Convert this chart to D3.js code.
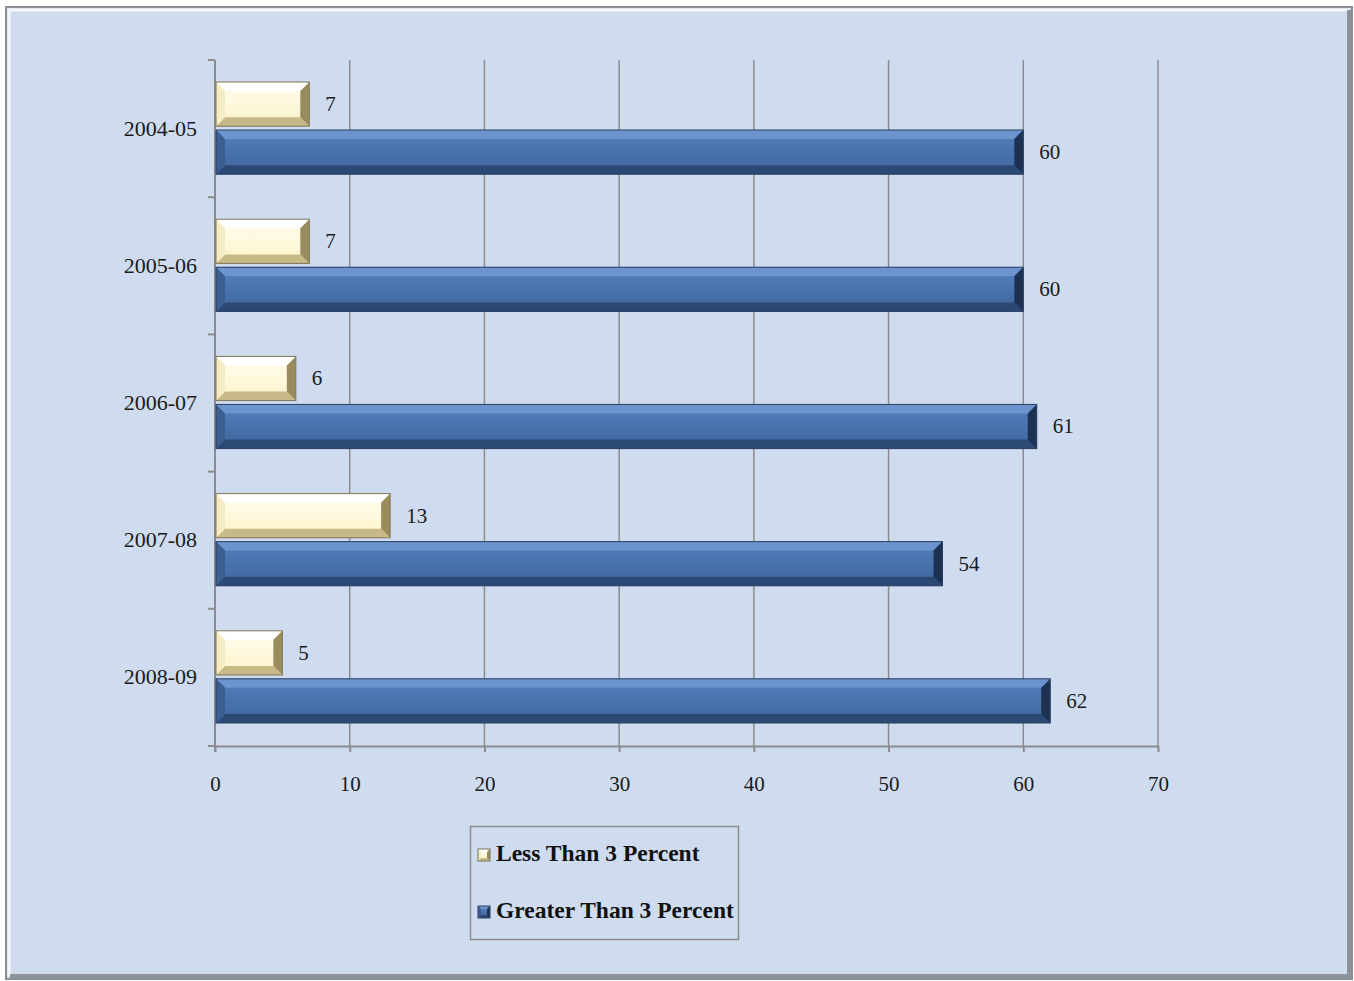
<!DOCTYPE html>
<html>
<head>
<meta charset="utf-8">
<script src="https://cdn.jsdelivr.net/npm/d3@7"></script>
<style>
    body { margin: 0; background: #ffffff; }
    svg { display: block; }
</style>
</head>
<body>
<svg id="svg" width="1354" height="981"></svg>
<script>
var categories = ["2004-05", "2005-06", "2006-07", "2007-08", "2008-09"];
var seriesNames = ["Less Than 3 Percent", "Greater Than 3 Percent"];
var lessValues = [7, 7, 6, 13, 5];
var greaterValues = [60, 60, 61, 54, 62];
var xTicks = [0, 10, 20, 30, 40, 50, 60, 70];

var svg = d3.select("svg"),
    width = +svg.attr("width"),
    height = +svg.attr("height");

var fontFamily = "'Liberation Serif', 'DejaVu Serif', serif";

// bevel colour sets for the two series
var palettes = [
    { face: ["#fffdf0", "#fdf3c8"], top: "#ffffff", left: "#f6ecc4", bottom: "#c8ba88", right: "#9a8c5e", stroke: "#7d7555" },
    { face: ["#5380bd", "#3f659c"], top: "#6c95cf", left: "#3c5f92", bottom: "#2c4875", right: "#1d3253", stroke: "#2a3f62" }
];

var defs = svg.append("defs");
palettes.forEach(function (p, i) {
    var lg = defs.append("linearGradient")
        .attr("id", "face" + i)
        .attr("x1", 0).attr("y1", 0).attr("x2", 0).attr("y2", 1);
    lg.append("stop").attr("offset", "0%").attr("stop-color", p.face[0]);
    lg.append("stop").attr("offset", "100%").attr("stop-color", p.face[1]);
});

// outer frame with bevel
var frame = svg.append("g");
frame.append("rect")
    .attr("x", 6).attr("y", 7).attr("width", 1346).attr("height", 972)
    .attr("fill", "#cfdcef")
    .attr("stroke", "#8a8f96")
    .attr("stroke-width", 2);
frame.append("path")
    .attr("d", "M9,976 L9,10 L1349,10")
    .attr("fill", "none").attr("stroke", "#ffffff").attr("stroke-width", 3).attr("opacity", 0.8);
frame.append("path")
    .attr("d", "M10,976 L1349,976 L1349,10")
    .attr("fill", "none").attr("stroke", "#6f7378").attr("stroke-width", 4).attr("opacity", 0.7);

// scales
var x = d3.scaleLinear()
    .domain([0, 70])
    .range([215, 1158]);

var y = d3.scaleBand()
    .domain(categories)
    .range([60, 746])
    .padding(0);

var inner = d3.scaleBand()
    .domain(seriesNames)
    .range([22, y.bandwidth() - 23])
    .paddingInner(0.08);

// gridlines
svg.append("g")
    .selectAll("line")
    .data(xTicks.slice(1))
    .enter()
    .append("line")
    .attr("x1", function (d) { return x(d); })
    .attr("x2", function (d) { return x(d); })
    .attr("y1", 60)
    .attr("y2", 746)
    .attr("stroke", "#8c8c8c")
    .attr("stroke-width", 1.5);

// x axis
var xAxis = svg.append("g")
    .attr("transform", "translate(0,746)")
    .call(d3.axisBottom(x).tickValues(xTicks).tickSize(6).tickPadding(24).tickSizeOuter(0));
xAxis.select(".domain").attr("stroke", "#8c8c8c").attr("stroke-width", 2);
xAxis.selectAll(".tick line").attr("stroke", "#8c8c8c").attr("stroke-width", 2);
xAxis.selectAll("text")
    .style("font-family", fontFamily)
    .style("font-size", "21px")
    .attr("fill", "#1a1a1a");

// y axis - tick marks at band boundaries
var yAxis = svg.append("g");
yAxis.append("line")
    .attr("x1", 215).attr("x2", 215)
    .attr("y1", 60).attr("y2", 752)
    .attr("stroke", "#8c8c8c").attr("stroke-width", 2);
yAxis.selectAll(".ytick")
    .data(categories.concat(["end"]))
    .enter()
    .append("line")
    .attr("class", "ytick")
    .attr("x1", 208).attr("x2", 215)
    .attr("y1", function (d, i) { return i < categories.length ? y(d) : y.range()[1]; })
    .attr("y2", function (d, i) { return i < categories.length ? y(d) : y.range()[1]; })
    .attr("stroke", "#8c8c8c").attr("stroke-width", 2);
yAxis.selectAll(".ylabel")
    .data(categories)
    .enter()
    .append("text")
    .attr("class", "ylabel")
    .attr("x", 197)
    .attr("y", function (d) { return y(d) + y.bandwidth() / 2 + 2; })
    .attr("text-anchor", "end")
    .attr("dominant-baseline", "middle")
    .style("font-family", fontFamily)
    .style("font-size", "22px")
    .attr("fill", "#1a1a1a")
    .text(function (d) { return d; });

// draw a bevelled box
function bevelBox(g, x0, y0, w, h, p, fillId, b) {
    b = Math.min(b, w / 2, h / 2);
    var x1 = x0 + w, y1 = y0 + h;
    g.append("rect")
        .attr("x", x0).attr("y", y0).attr("width", w).attr("height", h)
        .attr("fill", "url(#" + fillId + ")");
    var faces = [
        [[x0, y0], [x1, y0], [x1 - b, y0 + b], [x0 + b, y0 + b], p.top],
        [[x0, y1], [x1, y1], [x1 - b, y1 - b], [x0 + b, y1 - b], p.bottom],
        [[x0, y0], [x0 + b, y0 + b], [x0 + b, y1 - b], [x0, y1], p.left],
        [[x1, y0], [x1 - b, y0 + b], [x1 - b, y1 - b], [x1, y1], p.right]
    ];
    faces.forEach(function (f) {
        g.append("polygon")
            .attr("points", f.slice(0, 4).map(function (pt) { return pt.join(","); }).join(" "))
            .attr("fill", f[4]);
    });
    g.append("rect")
        .attr("x", x0).attr("y", y0).attr("width", w).attr("height", h)
        .attr("fill", "none")
        .attr("stroke", p.stroke)
        .attr("stroke-width", 1);
}

// bars
var seriesData = [lessValues, greaterValues];
seriesData.forEach(function (values, s) {
    var g = svg.append("g").attr("class", "series" + s);
    values.forEach(function (v, i) {
        var cat = categories[i];
        var by = y(cat) + inner(seriesNames[s]);
        var bh = inner.bandwidth();
        bevelBox(g, x(0) + 1, by, x(v) - x(0) - 1, bh, palettes[s], "face" + s, 9);

        g.append("text")
            .attr("x", x(v) + 16)
            .attr("y", by + bh / 2 + 2)
            .attr("dominant-baseline", "middle")
            .style("font-family", fontFamily)
            .style("font-size", "21px")
            .attr("fill", "#1a1a1a")
            .text(v);
    });
});

// legend
var legend = svg.append("g");
legend.append("rect")
    .attr("x", 470.5).attr("y", 826.5).attr("width", 268).attr("height", 113)
    .attr("fill", "none")
    .attr("stroke", "#8c8c8c")
    .attr("stroke-width", 1.5);

seriesNames.forEach(function (name, i) {
    var ly = 855 + i * 57;
    var sw = legend.append("g");
    bevelBox(sw, 478, ly - 6, 12, 12, palettes[i], "face" + i, 3);
    legend.append("text")
        .attr("x", 496)
        .attr("y", ly + 1)
        .attr("dominant-baseline", "middle")
        .style("font-family", fontFamily)
        .style("font-size", "23.5px")
        .style("font-weight", "bold")
        .attr("fill", "#111")
        .text(name);
});
</script>
</body>
</html>
